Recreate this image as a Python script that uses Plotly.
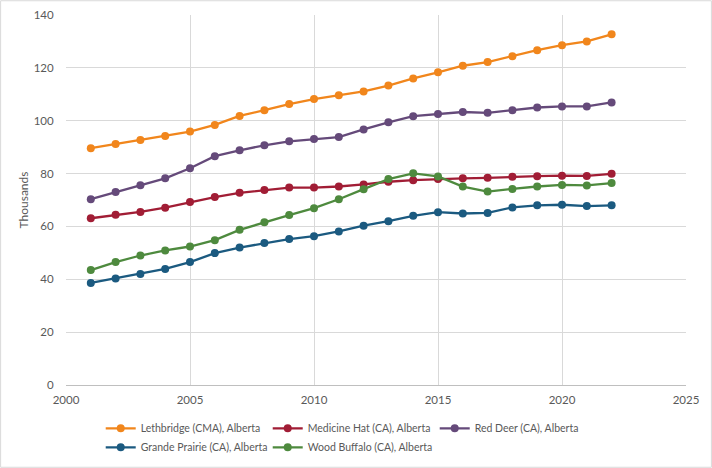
import plotly.graph_objects as go

years = list(range(2001, 2023))

lethbridge = [89.6, 91.2, 92.7, 94.2, 95.9, 98.4, 101.8, 104.0, 106.3, 108.2, 109.6, 111.1,
              113.3, 116.0, 118.3, 120.8, 122.2, 124.4, 126.7, 128.6, 130.0, 132.7]
medicine_hat = [63.1, 64.4, 65.5, 67.1, 69.2, 71.1, 72.7, 73.8, 74.7, 74.7, 75.1, 75.9,
                76.9, 77.5, 77.9, 78.2, 78.4, 78.8, 79.0, 79.2, 79.1, 79.9]
red_deer = [70.3, 73.0, 75.6, 78.2, 82.0, 86.6, 88.8, 90.7, 92.2, 93.1, 93.8, 96.7,
            99.4, 101.7, 102.5, 103.3, 103.0, 104.0, 105.0, 105.4, 105.4, 106.9]
grande_prairie = [38.6, 40.3, 42.0, 43.9, 46.5, 49.9, 52.0, 53.7, 55.2, 56.3, 58.1, 60.3,
                  62.0, 64.0, 65.4, 64.9, 65.1, 67.2, 68.0, 68.2, 67.7, 68.0]
wood_buffalo = [43.5, 46.5, 49.0, 50.9, 52.4, 54.8, 58.7, 61.6, 64.3, 66.9, 70.3, 74.1,
                77.9, 80.1, 78.9, 75.1, 73.2, 74.2, 75.1, 75.7, 75.5, 76.4]

series_names = ["Lethbridge (CMA), Alberta", "Medicine Hat (CA), Alberta", "Red Deer (CA), Alberta",
                "Grande Prairie (CA), Alberta", "Wood Buffalo (CA), Alberta"]
series_values = [lethbridge, medicine_hat, red_deer, grande_prairie, wood_buffalo]
colors = ["#F1861C", "#A11D35", "#654A7A", "#1B5A80", "#4E8A3E"]

x_ticks = [2000, 2005, 2010, 2015, 2020, 2025]
y_ticks = [0, 20, 40, 60, 80, 100, 120, 140]

fig = go.Figure()
for name, vals, col in zip(series_names, series_values, colors):
    fig.add_trace(go.Scatter(
        x=years, y=vals, name=name, mode="lines+markers",
        line=dict(color=col, width=2.3),
        marker=dict(color=col, size=8),
    ))

font_color = "#595959"
fig.update_layout(
    width=712, height=468,
    margin=dict(l=66, r=26, t=15, b=83, autoexpand=False),
    paper_bgcolor="white", plot_bgcolor="white",
    font=dict(family="Lato", size=11.5, color=font_color),
    showlegend=True,
    legend=dict(orientation="h", x=0.056, xanchor="left", y=-0.078, yanchor="top",
                entrywidth=122, entrywidthmode="pixels",
                font=dict(size=10.5, color=font_color), itemwidth=30,
                tracegroupgap=0),
    xaxis=dict(range=[2000, 2025], tickvals=x_ticks, showgrid=True, gridcolor="#D9D9D9",
               gridwidth=1, showline=True, linecolor="#BFBFBF", linewidth=1, zeroline=False,
               ticks="outside", ticklen=4, tickcolor="rgba(0,0,0,0)", automargin=False),
    yaxis=dict(range=[0, 140], tickvals=y_ticks, showgrid=True, gridcolor="#D9D9D9",
               gridwidth=1, showline=False, zeroline=False, automargin=False,
               ticks="outside", ticklen=9, tickcolor="rgba(0,0,0,0)",
               title=dict(text="Thousands", font=dict(size=12, color=font_color), standoff=2)),
)
fig.add_shape(type="rect", xref="paper", yref="paper",
              x0=-66/620 + 0.001, x1=1 + 26/620 - 0.001, y0=-83/370 + 0.002, y1=1 + 15/370 - 0.002,
              line=dict(color="#D9D9D9", width=1), layer="below")
fig.write_html("out.html", config={"displayModeBar": False},
               post_script="document.body.style.margin='0';document.body.style.overflow='hidden';")
